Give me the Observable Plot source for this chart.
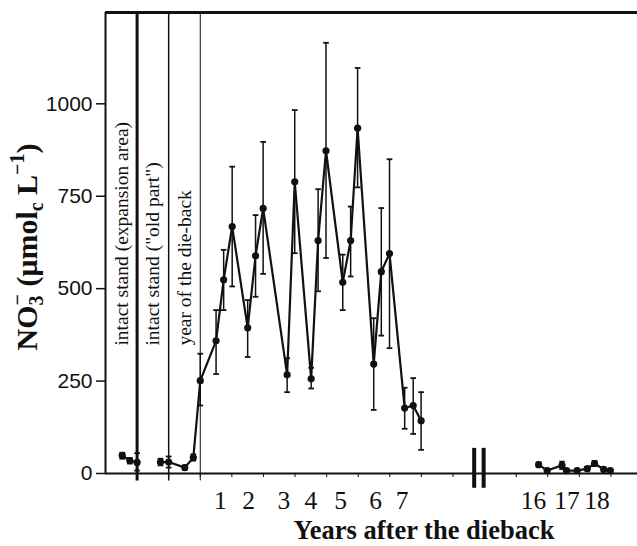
<!DOCTYPE html>
<html>
<head>
<meta charset="utf-8">
<script src="https://cdn.jsdelivr.net/npm/d3@7"></script>
<script src="https://cdn.jsdelivr.net/npm/@observablehq/plot@0.6"></script>
<style>
  html, body { margin: 0; padding: 0; background: #fff; }
  #chart svg { display: block; }
</style>
</head>
<body>
<div id="chart"></div>
<script>
// ---- data (sampling position on the time axis, one unit = one year tick) ----
const sampleT = [0.53, 0.77, 1.0,
  1.74, 2.0, 2.51, 2.78, 3.0,
  3.5, 3.74, 4.01, 4.5, 4.75, 4.99, 5.75, 5.99,
  6.51, 6.73, 6.98, 7.51, 7.76, 7.98, 8.49, 8.73, 8.99,
  9.47, 9.74, 9.99,
  13.71, 13.98, 14.45, 14.59, 14.93, 15.25, 15.48, 15.77, 15.98];
const nitrate = [49, 35, 30,
  31, 31, 16, 43, 251,
  359, 524, 668, 394, 589, 717, 267, 789,
  256, 630, 873, 517, 630, 934, 296, 546, 595,
  177, 184, 143,
  24, 8, 22, 8, 8, 13, 27, 11, 8];
const errLow = [40, 27, 8,
  22, 16, 10, 35, 184,
  269, 442, 506, 315, 478, 540, 220, 596,
  230, 493, 583, 442, 533, 774, 172, 373, 339,
  121, 107, 64,
  18, 3, 12, 3, 3, 8, 20, 6, 3];
const errHigh = [56, 42, 55,
  40, 46, 22, 52, 324,
  442, 605, 830, 469, 699, 897, 312, 983,
  286, 769, 1165, 592, 722, 1097, 420, 718, 850,
  232, 258, 220,
  30, 13, 32, 13, 13, 18, 34, 16, 13];
const segment = ["a", "a", "a",
  "b", "b", "b", "b", "b",
  "b", "b", "b", "b", "b", "b", "b", "b",
  "b", "b", "b", "b", "b", "b", "b", "b", "b",
  "b", "b", "b",
  "c", "c", "c", "c", "c", "c", "c", "c", "c"];

const yTicks = [0, 250, 500, 750, 1000];
const xTicks = [1, 2, 3, 4, 5, 6, 7, 8, 9, 10, 11, 13, 14, 15, 16];
const yearLabels = ["1", "2", "3", "4", "5", "6", "7", "16", "17", "18"];
const yearLabelPos = [3.64, 4.53, 5.65, 6.50, 7.44, 8.55, 9.39, 13.55, 14.61, 15.56];
const phaseLines = [1, 2, 3];
const phaseWidths = [3, 1.5, 1];
const phaseLabels = ["intact stand (expansion area)", "intact stand (\"old part\")", "year of the die-back"];
const phaseLabelPos = [0.5, 1.5, 2.52];
const phaseLabelY = 346;
const breakPos = [11.67, 11.97];
const yMax = 1247;
const xMax = 16.84;

const data = sampleT.map((t, i) => ({t, v: nitrate[i], lo: errLow[i], hi: errHigh[i], g: segment[i]}));
const phases = phaseLines.map((p, i) => ({p, w: phaseWidths[i], label: phaseLabels[i], lx: phaseLabelPos[i]}));
const years = yearLabels.map((s, i) => ({s, x: yearLabelPos[i]}));

const capSymbol = {
  draw(context, size) {
    const w = Math.sqrt(size) / 2;
    context.moveTo(-w, 0);
    context.lineTo(w, 0);
  }
};

const serif = "'Liberation Serif', 'Times New Roman', serif";

const chart = Plot.plot({
  width: 637,
  height: 546,
  marginLeft: 105,
  marginRight: 0,
  marginTop: 12,
  marginBottom: 73,
  style: {fontFamily: "'Liberation Sans', Arial, sans-serif", fontSize: "21px", color: "#111", background: "#fff"},
  x: {domain: [0, xMax]},
  y: {domain: [0, yMax]},
  marks: [
    // frame
    Plot.ruleY([yMax], {stroke: "#111", strokeWidth: 3}),
    Plot.ruleY([0], {stroke: "#111", strokeWidth: 2}),
    Plot.ruleX([0], {stroke: "#111", strokeWidth: 2}),
    // phase lines
    Plot.ruleX(phases, {x: "p", y1: -20, y2: yMax, stroke: "#111", strokeWidth: "w"}),
    Plot.text(phases, {x: "lx", y: phaseLabelY, text: "label", rotate: -90, textAnchor: "start",
      fontFamily: serif, fontSize: 19.5, fill: "#111"}),
    // axes
    Plot.axisY({ticks: yTicks, tickSize: 9, tickPadding: 4, tickFormat: d3.format("d"), label: null, strokeWidth: 1.5}),
    Plot.axisX({ticks: xTicks, tickSize: 4, tickFormat: () => "", label: null}),
    Plot.text(years, {x: "x", y: 0, text: "s", dy: 27, fontFamily: serif, fontSize: 25.5, fill: "#111"}),
    // axis break
    Plot.ruleX(breakPos, {y1: -40, y2: 68, stroke: "#111", strokeWidth: 4}),
    // error bars
    Plot.ruleX(data, {x: "t", y1: "lo", y2: "hi", stroke: "#111", strokeWidth: 1.5}),
    Plot.dot(data, {x: "t", y: "lo", symbol: capSymbol, r: 3.2, stroke: "#111", strokeWidth: 1.8, fill: "none"}),
    Plot.dot(data, {x: "t", y: "hi", symbol: capSymbol, r: 3.2, stroke: "#111", strokeWidth: 1.8, fill: "none"}),
    // series
    Plot.line(data, {x: "t", y: "v", z: "g", stroke: "#111", strokeWidth: 2.2}),
    Plot.dot(data, {x: "t", y: "v", r: 3.6, fill: "#111", stroke: "none"})
  ]
});

document.getElementById("chart").appendChild(chart);

// titles with rich sub/superscripts
const svg = d3.select(chart);
const yt = svg.append("text")
  .attr("transform", "translate(37,247) rotate(-90)")
  .attr("text-anchor", "middle")
  .attr("font-family", serif)
  .attr("font-weight", "bold")
  .attr("font-size", 30)
  .attr("fill", "#111");
yt.append("tspan").text("NO");
yt.append("tspan").attr("font-size", 20).attr("dy", 6).text("3");
yt.append("tspan").attr("font-size", 20).attr("dx", -10).attr("dy", -19).text("\u2212");
yt.append("tspan").attr("dy", 13).text(" (\u03bcmol");
yt.append("tspan").attr("font-size", 20).attr("dy", 6).text("c");
yt.append("tspan").attr("dy", -6).text(" L");
yt.append("tspan").attr("font-size", 20).attr("dy", -13).text("\u22121");
yt.append("tspan").attr("dy", 13).text(")");

svg.append("text")
  .attr("x", 424)
  .attr("y", 539)
  .attr("text-anchor", "middle")
  .attr("font-family", serif)
  .attr("font-weight", "bold")
  .attr("font-size", 26.5)
  .attr("fill", "#111")
  .text("Years after the dieback");
</script>
</body>
</html>
